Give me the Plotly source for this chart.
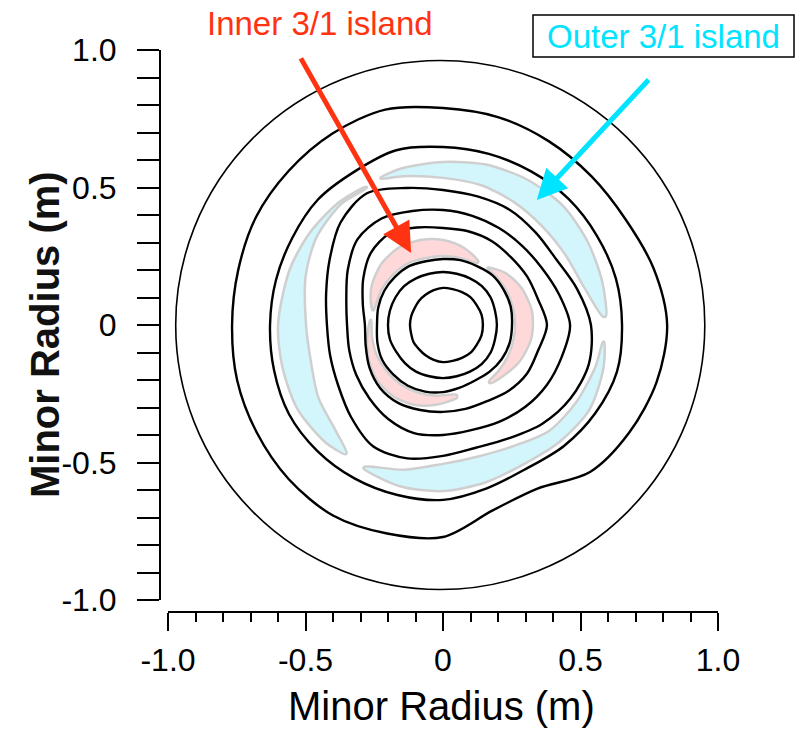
import numpy as np
import plotly.graph_objects as go

# ---------------- data ----------------
# polar sampling angles (deg) shared by the flux-surface contours, centre at (0, 0)
ANGLES = [0, 15, 30, 45, 60, 75, 90, 105, 120, 135, 150, 165,
          180, 195, 210, 225, 240, 255, 270, 285, 300, 315, 330, 345]

# contour radii (m) at those angles, innermost first
C1 = [0.145, 0.145, 0.142, 0.142, 0.138, 0.135, 0.135, 0.131, 0.127, 0.124, 0.120, 0.120,
      0.120, 0.120, 0.124, 0.124, 0.127, 0.131, 0.135, 0.135, 0.138, 0.142, 0.142, 0.145]
C2 = [0.196, 0.196, 0.200, 0.200, 0.196, 0.193, 0.193, 0.193, 0.196, 0.200, 0.200, 0.200,
      0.200, 0.200, 0.196, 0.196, 0.196, 0.193, 0.193, 0.193, 0.196, 0.200, 0.200, 0.196]
C3 = [0.251, 0.255, 0.255, 0.255, 0.247, 0.244, 0.240, 0.240, 0.247, 0.247, 0.247, 0.244,
      0.240, 0.247, 0.255, 0.255, 0.255, 0.251, 0.244, 0.236, 0.233, 0.240, 0.247, 0.251]
C4 = [0.378, 0.358, 0.353, 0.349, 0.353, 0.353, 0.353, 0.367, 0.385, 0.371, 0.335, 0.302,
      0.284, 0.291, 0.309, 0.324, 0.327, 0.320, 0.316, 0.316, 0.320, 0.338, 0.353, 0.358]
C5 = [0.462, 0.436, 0.415, 0.407, 0.407, 0.411, 0.418, 0.429, 0.447, 0.440, 0.400, 0.364,
      0.349, 0.353, 0.364, 0.378, 0.396, 0.407, 0.400, 0.396, 0.407, 0.422, 0.436, 0.447]
C6 = [0.538, 0.505, 0.476, 0.476, 0.484, 0.484, 0.491, 0.516, 0.553, 0.527, 0.476, 0.440,
      0.422, 0.425, 0.440, 0.473, 0.509, 0.502, 0.476, 0.462, 0.476, 0.509, 0.535, 0.549]
C7 = [0.651, 0.651, 0.647, 0.647, 0.644, 0.644, 0.647, 0.658, 0.644, 0.644, 0.633, 0.629,
      0.629, 0.636, 0.647, 0.647, 0.644, 0.640, 0.636, 0.615, 0.604, 0.622, 0.640, 0.655]
C8 = [0.815, 0.793, 0.767, 0.764, 0.771, 0.782, 0.789, 0.811, 0.804, 0.793, 0.785, 0.771,
      0.767, 0.775, 0.782, 0.793, 0.800, 0.785, 0.771, 0.698, 0.687, 0.756, 0.782, 0.804]
CONTOURS = [C1, C2, C3, C4, C5, C6, C7, C8]

# inner 3/1 island: three crescents (angles deg, outer radius m, inner radius m)
PINK_A1 = [61, 75, 90, 105, 120, 135, 150, 160, 168]
PINK_O1 = [0.265, 0.291, 0.309, 0.320, 0.324, 0.316, 0.298, 0.280, 0.262]
PINK_I1 = [0.258, 0.251, 0.251, 0.251, 0.258, 0.258, 0.258, 0.255, 0.258]
PINK_A2 = [-51, -40, -25, -10, 0, 10, 25, 40, 52]
PINK_O2 = [0.273, 0.287, 0.309, 0.324, 0.327, 0.327, 0.316, 0.295, 0.265]
PINK_I2 = [0.265, 0.262, 0.262, 0.262, 0.262, 0.262, 0.262, 0.262, 0.262]
PINK_A3 = [176, 190, 205, 220, 235, 250, 265, 281]
PINK_O3 = [0.265, 0.280, 0.298, 0.313, 0.316, 0.309, 0.291, 0.269]
PINK_I3 = [0.262, 0.262, 0.265, 0.265, 0.265, 0.262, 0.258, 0.258]

# outer 3/1 island: three crescents
CYAN_A1 = [3, 15, 30, 45, 60, 75, 90, 105, 113]
CYAN_O1 = [0.593, 0.600, 0.607, 0.615, 0.611, 0.604, 0.593, 0.589, 0.582]
CYAN_I1 = [0.582, 0.531, 0.513, 0.509, 0.516, 0.527, 0.535, 0.560, 0.578]
CYAN_A2 = [119, 130, 145, 160, 180, 195, 210, 225, 233]
CYAN_O2 = [0.575, 0.585, 0.589, 0.593, 0.600, 0.604, 0.611, 0.604, 0.589]
CYAN_I2 = [0.571, 0.575, 0.560, 0.531, 0.498, 0.498, 0.524, 0.549, 0.582]
CYAN_A3 = [241, 255, 270, 285, 300, 315, 330, 345, 354]
CYAN_O3 = [0.596, 0.607, 0.604, 0.593, 0.585, 0.600, 0.615, 0.604, 0.589]
CYAN_I3 = [0.589, 0.545, 0.505, 0.495, 0.509, 0.545, 0.560, 0.575, 0.585]

WALL_CENTER = (-0.01, 0.0)
WALL_R = 0.962

RED_ARROW = dict(tail=(-0.52, 0.975), tip=(-0.116, 0.262))
CYAN_ARROW = dict(tail=(0.753, 0.897), tip=(0.341, 0.455))

TICK_VALS = [-1.0, -0.5, 0.0, 0.5, 1.0]
TICK_TEXT = ["-1.0", "-0.5", "0", "0.5", "1.0"]

RED = "#FF3311"
CYAN = "#00E4FF"
PINK_FILL = "#FFD9D9"
CYAN_FILL = "#D3F6FD"
GREY = "#CFCFCF"


# ---------------- helpers ----------------
def closed_xy(angles, radii):
    a = np.deg2rad(np.asarray(angles, float))
    r = np.asarray(radii, float)
    x = list(r * np.cos(a))
    y = list(r * np.sin(a))
    return x + [x[0]], y + [y[0]]


def crescent_xy(angles, outer, inner):
    a = np.deg2rad(np.asarray(angles, float))
    ro = np.asarray(outer, float)
    ri = np.asarray(inner, float)
    x = list(ro * np.cos(a)) + list((ri * np.cos(a))[::-1])
    y = list(ro * np.sin(a)) + list((ri * np.sin(a))[::-1])
    return x + [x[0]], y + [y[0]]


fig = go.Figure()

islands = [
    (PINK_A1, PINK_O1, PINK_I1, PINK_FILL), (PINK_A2, PINK_O2, PINK_I2, PINK_FILL),
    (PINK_A3, PINK_O3, PINK_I3, PINK_FILL),
    (CYAN_A1, CYAN_O1, CYAN_I1, CYAN_FILL), (CYAN_A2, CYAN_O2, CYAN_I2, CYAN_FILL),
    (CYAN_A3, CYAN_O3, CYAN_I3, CYAN_FILL),
]
for ang, ro, ri, col in islands:
    x, y = crescent_xy(ang, ro, ri)
    fig.add_trace(go.Scatter(x=x, y=y, mode="lines", fill="toself", fillcolor=col,
                             line=dict(color=GREY, width=2.5, shape="spline", smoothing=0.8),
                             hoverinfo="skip", showlegend=False))

for rad in CONTOURS:
    x, y = closed_xy(ANGLES, rad)
    fig.add_trace(go.Scatter(x=x, y=y, mode="lines",
                             line=dict(color="black", width=2.4, shape="spline", smoothing=0.9),
                             hoverinfo="skip", showlegend=False))

fig.add_shape(type="circle", xref="x", yref="y",
              x0=WALL_CENTER[0] - WALL_R, x1=WALL_CENTER[0] + WALL_R,
              y0=WALL_CENTER[1] - WALL_R, y1=WALL_CENTER[1] + WALL_R,
              line=dict(color="black", width=1.6))

W, H = 799, 729


def px(xp):
    return xp / W


def py(yp):
    return 1 - yp / H


tickfont = dict(family="Liberation Sans, Arial", size=32, color="black")

fig.update_layout(
    width=W, height=H, margin=dict(l=0, r=0, t=0, b=0), autosize=False,
    paper_bgcolor="white", plot_bgcolor="white", showlegend=False,
    xaxis=dict(domain=[px(168), px(718)], range=[-1, 1], anchor="free", position=py(612),
               showline=True, linecolor="black", linewidth=2, showgrid=False, zeroline=False,
               ticks="outside", ticklen=18, tickwidth=1.6, tickcolor="black",
               tickvals=TICK_VALS, ticktext=TICK_TEXT, tickfont=tickfont,
               ticklabelstandoff=2,
               minor=dict(dtick=0.1, tick0=0, ticks="outside", ticklen=9, tickwidth=1.6,
                          tickcolor="black", showgrid=False),
               automargin=False, fixedrange=True),
    yaxis=dict(domain=[py(600), py(50)], range=[-1, 1], anchor="free", position=px(160),
               showline=True, linecolor="black", linewidth=2, showgrid=False, zeroline=False,
               ticks="outside", ticklen=22, tickwidth=1.6, tickcolor="black",
               tickvals=TICK_VALS, ticktext=TICK_TEXT, tickfont=tickfont,
               ticklabelstandoff=14,
               minor=dict(dtick=0.1, tick0=0, ticks="outside", ticklen=22, tickwidth=1.6,
                          tickcolor="black", showgrid=False),
               automargin=False, fixedrange=True),
)

annotations = [
    dict(text="Minor Radius (m)", x=px(441), y=py(706), xref="paper", yref="paper",
         showarrow=False, font=dict(family="Liberation Sans, Arial", size=40, color="black"),
         xanchor="center", yanchor="middle"),
    dict(text="<b>Minor Radius (m)</b>", x=px(45), y=py(335), xref="paper", yref="paper",
         showarrow=False, textangle=-90,
         font=dict(family="Liberation Sans, Arial", size=40, color="#111111"),
         xanchor="center", yanchor="middle"),
    dict(text="Inner 3/1 island", x=px(320), y=py(23), xref="paper", yref="paper",
         showarrow=False, font=dict(family="Liberation Sans, Arial", size=33, color=RED),
         xanchor="center", yanchor="middle"),
    dict(text="Outer 3/1 island", x=px(663), y=py(37), xref="paper", yref="paper",
         showarrow=False, font=dict(family="Liberation Sans, Arial", size=33, color=CYAN),
         xanchor="center", yanchor="middle"),
]
for arr, col in [(RED_ARROW, RED), (CYAN_ARROW, CYAN)]:
    annotations.append(dict(
        x=arr["tip"][0], y=arr["tip"][1], ax=arr["tail"][0], ay=arr["tail"][1],
        xref="x", yref="y", axref="x", ayref="y", text="", showarrow=True,
        arrowhead=2, arrowsize=1.2, arrowwidth=5, arrowcolor=col, standoff=0))
fig.update_layout(annotations=annotations)

fig.add_shape(type="rect", xref="paper", yref="paper",
              x0=px(533), x1=px(794), y0=py(57), y1=py(15),
              line=dict(color="black", width=1.5))

fig.write_html("out.html")
